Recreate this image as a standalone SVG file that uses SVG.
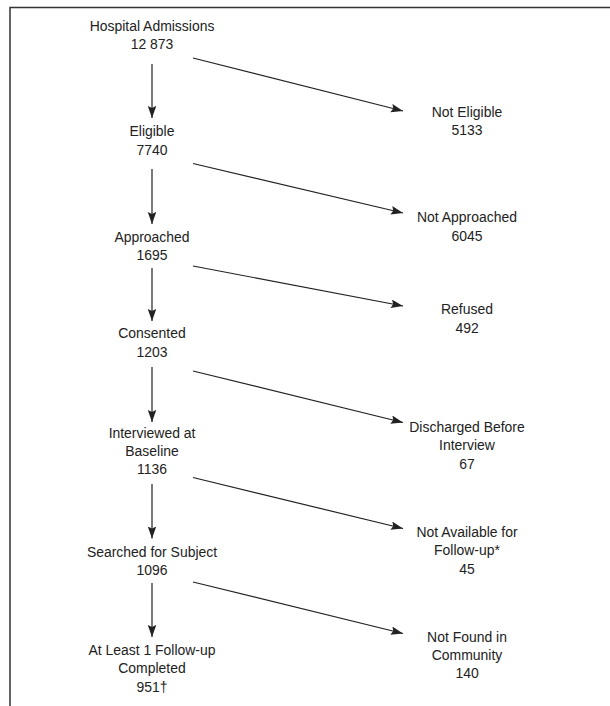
<svg xmlns="http://www.w3.org/2000/svg" width="610" height="706" viewBox="0 0 610 706">
<style>
.t{font-family:"Liberation Sans",Arial,sans-serif;font-size:15px;fill:#222;text-anchor:middle}
.c{stroke:#222;stroke-width:1.2;fill:none}
.b{stroke:#333;stroke-width:1.5;fill:none}
</style>
<defs>
<marker id="ah" markerUnits="userSpaceOnUse" markerWidth="13" markerHeight="9" refX="12" refY="4.25" orient="auto">
<path d="M0,0 L12,4.25 L0,8.5 L2,4.25 z" fill="#222"/>
</marker>
</defs>
<rect width="610" height="706" fill="#fff"/>
<path class="b" d="M10,706 V7.5 H610"/>
<g id="connectors">
<line class="c" x1="152" y1="64" x2="152" y2="118" marker-end="url(#ah)"/>
<line class="c" x1="152" y1="169" x2="152" y2="224" marker-end="url(#ah)"/>
<line class="c" x1="152" y1="268" x2="152" y2="321" marker-end="url(#ah)"/>
<line class="c" x1="152" y1="367" x2="152" y2="422" marker-end="url(#ah)"/>
<line class="c" x1="152" y1="484" x2="152" y2="538.5" marker-end="url(#ah)"/>
<line class="c" x1="152" y1="583" x2="152" y2="637" marker-end="url(#ah)"/>
<line class="c" x1="193" y1="58" x2="403" y2="111" marker-end="url(#ah)"/>
<line class="c" x1="193" y1="163.5" x2="403" y2="213" marker-end="url(#ah)"/>
<line class="c" x1="193" y1="266" x2="403" y2="306" marker-end="url(#ah)"/>
<line class="c" x1="193" y1="371" x2="403" y2="422.5" marker-end="url(#ah)"/>
<line class="c" x1="193" y1="477.5" x2="403" y2="528.5" marker-end="url(#ah)"/>
<line class="c" x1="193" y1="582" x2="403" y2="633.5" marker-end="url(#ah)"/>
</g>
<g id="n-admissions">
<text class="t" transform="translate(152,30.7) scale(0.93,1)">Hospital Admissions</text>
<text class="t" transform="translate(152,49.3) scale(0.93,1)">12 873</text>
</g>
<g id="n-eligible">
<text class="t" transform="translate(152,136) scale(0.93,1)">Eligible</text>
<text class="t" transform="translate(152,154.5) scale(0.93,1)">7740</text>
</g>
<g id="n-approached">
<text class="t" transform="translate(152,241.7) scale(0.93,1)">Approached</text>
<text class="t" transform="translate(152,259.5) scale(0.93,1)">1695</text>
</g>
<g id="n-consented">
<text class="t" transform="translate(152,338.3) scale(0.93,1)">Consented</text>
<text class="t" transform="translate(152,356.7) scale(0.93,1)">1203</text>
</g>
<g id="n-interviewed">
<text class="t" transform="translate(152,438.3) scale(0.93,1)">Interviewed at</text>
<text class="t" transform="translate(152,456) scale(0.93,1)">Baseline</text>
<text class="t" transform="translate(152,474.3) scale(0.93,1)">1136</text>
</g>
<g id="n-searched">
<text class="t" transform="translate(152,556.7) scale(0.93,1)">Searched for Subject</text>
<text class="t" transform="translate(152,575) scale(0.93,1)">1096</text>
</g>
<g id="n-followup">
<text class="t" transform="translate(152,655) scale(0.93,1)">At Least 1 Follow-up</text>
<text class="t" transform="translate(152,673.3) scale(0.93,1)">Completed</text>
<text class="t" transform="translate(152,691.7) scale(0.93,1)">951†</text>
</g>
<g id="n-not-eligible">
<text class="t" transform="translate(467,116.7) scale(0.93,1)">Not Eligible</text>
<text class="t" transform="translate(467,134.5) scale(0.93,1)">5133</text>
</g>
<g id="n-not-approached">
<text class="t" transform="translate(467,222) scale(0.93,1)">Not Approached</text>
<text class="t" transform="translate(467,240.5) scale(0.93,1)">6045</text>
</g>
<g id="n-refused">
<text class="t" transform="translate(467,314) scale(0.93,1)">Refused</text>
<text class="t" transform="translate(467,332.5) scale(0.93,1)">492</text>
</g>
<g id="n-discharged">
<text class="t" transform="translate(467,431.7) scale(0.93,1)">Discharged Before</text>
<text class="t" transform="translate(467,450.3) scale(0.93,1)">Interview</text>
<text class="t" transform="translate(467,469) scale(0.93,1)">67</text>
</g>
<g id="n-not-available">
<text class="t" transform="translate(467,536.7) scale(0.93,1)">Not Available for</text>
<text class="t" transform="translate(467,555.3) scale(0.93,1)">Follow-up*</text>
<text class="t" transform="translate(467,573.5) scale(0.93,1)">45</text>
</g>
<g id="n-not-found">
<text class="t" transform="translate(467,641.7) scale(0.93,1)">Not Found in</text>
<text class="t" transform="translate(467,660) scale(0.93,1)">Community</text>
<text class="t" transform="translate(467,678.3) scale(0.93,1)">140</text>
</g>
</svg>
